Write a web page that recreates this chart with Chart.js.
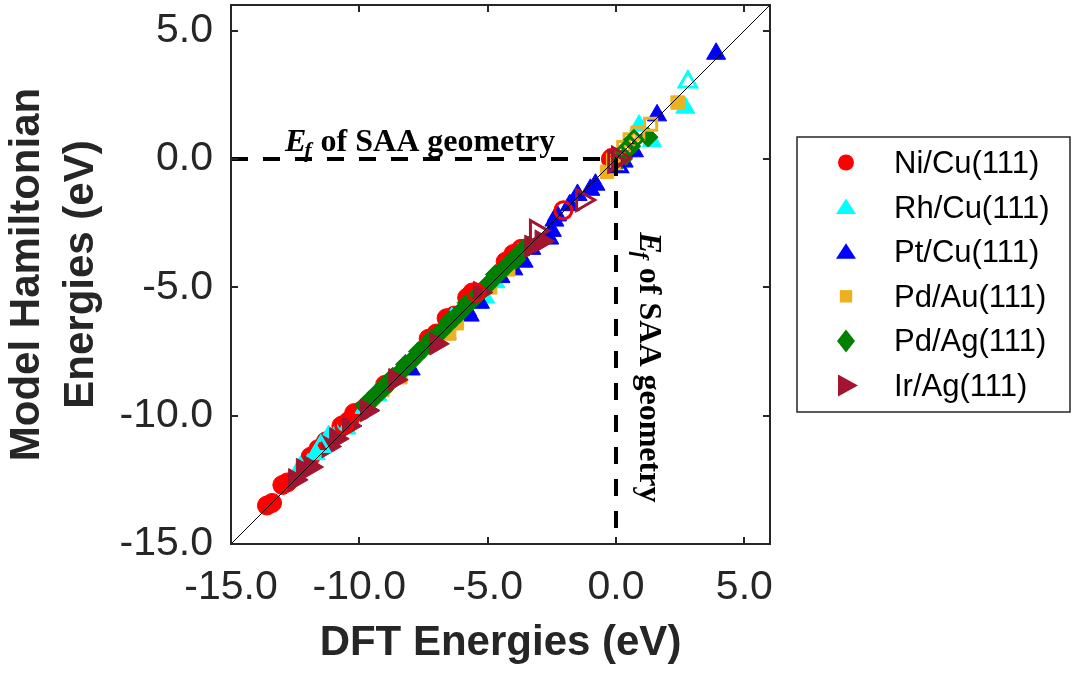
<!DOCTYPE html>
<html>
<head>
<meta charset="utf-8">
<script src="https://cdn.jsdelivr.net/npm/chart.js@4.4.1/dist/chart.umd.min.js"></script>
<style>
  html, body { margin: 0; padding: 0; background: #fff; }
  #wrap { width: 1073px; height: 673px; }
</style>
</head>
<body>
<div id="wrap"><canvas id="chart" width="1073" height="673"></canvas></div>
<script>
// Series labels and colours (legend order)
const seriesLabels = ["Ni/Cu(111)", "Rh/Cu(111)", "Pt/Cu(111)", "Pd/Au(111)", "Pd/Ag(111)", "Ir/Ag(111)"];
const seriesColors = ["#ff0000", "#00ffff", "#0000ff", "#edb120", "#008000", "#a2142f"];

// Axis setup
const axisMin = -15;
const axisMax = 6;
const xTicks = [-15, -10, -5, 0, 5];
const yTicks = [-15, -10, -5, 0, 5];

// [DFT energy, model Hamiltonian energy] in eV
const niCuFilled = [[-13.6, -13.5], [-13.4, -13.4], [-13.0, -12.7], [-12.8, -12.6], [-11.9, -11.6], [-11.6, -11.3],
  [-11.3, -11.0], [-10.7, -10.4], [-10.4, -10.2], [-10.2, -9.9], [-9.9, -9.8], [-9.0, -8.8], [-7.3, -7.0],
  [-7.0, -6.8], [-6.6, -6.2], [-6.3, -6.1], [-5.8, -5.4], [-5.6, -5.2], [-4.3, -4.0], [-4.0, -3.7], [-3.7, -3.5], [-0.2, 0.0]];
const niCuOpen = [[-10.6, -10.35], [-5.45, -5.2], [-2.05, -2.0], [-0.15, 0.05]];

const rhCuFilled = [[-12.3, -12.0], [-12.0, -11.9], [-11.7, -11.5], [-11.2, -10.8], [-10.9, -10.7], [-10.5, -10.5],
  [-9.8, -9.7], [-9.3, -9.2], [-8.2, -8.1], [-6.4, -6.2], [-5.4, -5.6], [-5.1, -5.4], [-4.7, -4.8], [-3.8, -3.7],
  [0.9, 1.3], [1.4, 0.7], [2.7, 2.0]];
const rhCuOpen = [[2.8, 3.0], [-11.5, -11.2]];

const ptCuFilled = [[3.9, 4.1], [1.6, 1.7], [0.7, 0.3], [0.3, -0.1], [-0.8, -1.0], [-1.0, -1.2], [-1.5, -1.4],
  [-1.8, -1.8], [-2.3, -2.2], [-2.4, -2.4], [-2.5, -2.8], [-2.6, -3.1], [-3.3, -3.5], [-3.6, -4.0], [-4.0, -4.3],
  [-4.5, -4.6], [-5.3, -5.6], [-5.8, -5.9], [-5.7, -6.1], [-6.6, -6.8], [-8.0, -8.2]];
const ptCuOpen = [[0.1, -0.3]];

const pdAuFilled = [[2.4, 2.2], [-0.35, -0.5], [0.0, -0.2], [-6.2, -6.4], [-6.5, -6.8], [-4.9, -5.0],
  [-8.4, -8.5], [-9.1, -9.0], [-4.2, -4.3]];
const pdAuOpen = [[1.35, 1.35], [0.85, 1.0], [0.3, 0.45], [-0.1, -0.05], [0.55, 0.75]];

const pdAgFilled = [[-9.8, -9.6], [-9.6, -9.4], [-9.5, -9.4], [-9.3, -9.1], [-9.1, -9.0], [-9.0, -8.8], [-8.8, -8.7],
  [-8.7, -8.5], [-8.5, -8.4], [-8.3, -8.2], [-8.2, -8.0], [-8.0, -7.9], [-7.8, -7.7], [-7.7, -7.5], [-7.5, -7.4],
  [-7.3, -7.2], [-7.2, -7.0], [-7.0, -6.9], [-6.8, -6.7], [-6.6, -6.5], [-6.5, -6.3], [-6.3, -6.2], [-6.1, -6.0],
  [-5.9, -5.8], [-5.8, -5.6], [-5.6, -5.5], [-5.4, -5.3], [-5.2, -5.1], [-5.0, -4.9], [-4.8, -4.7], [-4.7, -4.5],
  [-4.5, -4.4], [-4.3, -4.2], [-4.1, -4.0], [-3.9, -3.9], [-3.8, -3.7], [-3.6, -3.5], [-3.4, -3.4], [1.25, 0.85], [0.25, 0.0]];
const pdAgOpen = [[0.55, 0.5], [0.35, 0.3], [0.7, 0.75]];

const irAgFilled = [[-12.5, -12.5], [-12.2, -12.1], [-11.9, -12.0], [-11.2, -11.2], [-10.9, -10.9], [-10.4, -10.4],
  [-9.7, -9.8], [-8.6, -8.6], [-7.0, -7.2], [-5.3, -5.2], [-3.3, -3.4], [-2.9, -3.2]];
const irAgOpen = [[-1.3, -1.6], [-3.1, -2.8], [0.1, 0.05], [-0.05, -0.1]];

const filledSets = [niCuFilled, rhCuFilled, ptCuFilled, pdAuFilled, pdAgFilled, irAgFilled];
const openSets = [niCuOpen, rhCuOpen, ptCuOpen, pdAuOpen, pdAgOpen, irAgOpen];

// Marker look per series
const markerStyles = ["circle", "triangle", "triangle", "rect", "rectRot", "triangle"];
const markerRotation = [0, 0, 0, 0, 0, 90];
const markerRadius = [9.5, 11, 11, 9.5, 10, 13];

const toPoints = (arr) => arr.map((p) => ({ x: p[0], y: p[1] }));

const datasets = [];

// Reference lines (drawn on top)
datasets.push({
  data: [{ x: axisMin, y: axisMin }, { x: axisMax, y: axisMax }],
  showLine: true, borderColor: "#000", borderWidth: 1, pointRadius: 0, order: 0,
});
datasets.push({
  data: [{ x: axisMin, y: 0 }, { x: 0, y: 0 }],
  showLine: true, borderColor: "#000", borderWidth: 4, borderDash: [17, 15], pointRadius: 0, order: 0,
});
datasets.push({
  data: [{ x: 0, y: 0 }, { x: 0, y: axisMin }],
  showLine: true, borderColor: "#000", borderWidth: 4, borderDash: [17, 15], pointRadius: 0, order: 0,
});

seriesLabels.forEach((label, i) => {
  datasets.push({
    label: label,
    data: toPoints(filledSets[i]),
    pointStyle: markerStyles[i],
    rotation: markerRotation[i],
    pointRadius: markerRadius[i],
    backgroundColor: seriesColors[i],
    borderColor: seriesColors[i],
    borderWidth: 1,
    order: 12 - i,
  });
  datasets.push({
    label: label + " open",
    data: toPoints(openSets[i]),
    pointStyle: markerStyles[i],
    rotation: markerRotation[i],
    pointRadius: markerRadius[i] - 1,
    backgroundColor: "rgba(255,255,255,0)",
    borderColor: seriesColors[i],
    borderWidth: 3,
    order: 6 - i,
  });
});

const sansFont = "'Liberation Sans', Arial, Helvetica, sans-serif";
const serifFont = "'Liberation Serif', 'Times New Roman', serif";

// Legend marker shapes (MATLAB-like sizes)
function drawLegendMarker(ctx, i, cx, cy) {
  ctx.fillStyle = seriesColors[i];
  ctx.beginPath();
  switch (i) {
    case 0:
      ctx.arc(cx, cy, 8, 0, Math.PI * 2);
      break;
    case 1:
    case 2:
      ctx.moveTo(cx, cy - 8.5);
      ctx.lineTo(cx + 10, cy + 7);
      ctx.lineTo(cx - 10, cy + 7);
      break;
    case 3:
      ctx.rect(cx - 6.2, cy - 6.2, 12.4, 12.4);
      break;
    case 4:
      ctx.moveTo(cx, cy - 11.5);
      ctx.lineTo(cx + 9, cy);
      ctx.lineTo(cx, cy + 11.5);
      ctx.lineTo(cx - 9, cy);
      break;
    case 5:
      ctx.moveTo(cx - 8, cy - 11);
      ctx.lineTo(cx + 12, cy);
      ctx.lineTo(cx - 8, cy + 11);
      break;
  }
  ctx.closePath();
  ctx.fill();
}

// E_f of SAA geometry label, drawn at the current origin (alphabetic baseline)
function drawEfLabel(ctx) {
  ctx.fillStyle = "#000";
  ctx.textAlign = "left";
  ctx.textBaseline = "alphabetic";
  ctx.font = "italic bold 32px " + serifFont;
  ctx.fillText("E", 0, 0);
  let w = ctx.measureText("E").width;
  ctx.font = "italic bold 22px " + serifFont;
  ctx.fillText("f", w - 2, 6);
  w += ctx.measureText("f").width - 1;
  ctx.font = "bold 32px " + serifFont;
  ctx.fillText(" of SAA geometry", w, 0);
}

const framePlugin = {
  id: "frame",
  afterDatasetsDraw(chart) {
    const { ctx, chartArea: a, scales } = chart;
    const xs = scales.x;
    const ys = scales.y;
    ctx.save();

    // axes box with inward ticks
    ctx.strokeStyle = "#262626";
    ctx.lineWidth = 2;
    ctx.strokeRect(a.left, a.top, a.right - a.left, a.bottom - a.top);
    ctx.beginPath();
    xTicks.forEach((v) => {
      const px = Math.round(xs.getPixelForValue(v));
      ctx.moveTo(px, a.bottom);
      ctx.lineTo(px, a.bottom - 7);
      ctx.moveTo(px, a.top);
      ctx.lineTo(px, a.top + 7);
    });
    yTicks.forEach((v) => {
      const py = Math.round(ys.getPixelForValue(v));
      ctx.moveTo(a.left, py);
      ctx.lineTo(a.left + 7, py);
      ctx.moveTo(a.right, py);
      ctx.lineTo(a.right - 7, py);
    });
    ctx.stroke();

    // annotations
    ctx.save();
    ctx.translate(xs.getPixelForValue(-12.9), ys.getPixelForValue(0) - 8);
    drawEfLabel(ctx);
    ctx.restore();

    ctx.save();
    ctx.translate(xs.getPixelForValue(0) + 24, ys.getPixelForValue(-2.85));
    ctx.rotate(Math.PI / 2);
    drawEfLabel(ctx);
    ctx.restore();

    // legend
    const lx = a.right + 27;
    const ly = 137;
    ctx.strokeStyle = "#262626";
    ctx.lineWidth = 1.5;
    ctx.strokeRect(lx, ly, 273, 275);
    ctx.font = "31px " + sansFont;
    ctx.textAlign = "left";
    ctx.textBaseline = "middle";
    seriesLabels.forEach((label, i) => {
      const rowY = ly + 27.5 + i * 44.6;
      drawLegendMarker(ctx, i, lx + 49, rowY - 2);
      ctx.fillStyle = "#000";
      ctx.fillText(label, lx + 97, rowY);
    });

    ctx.restore();
  },
};

new Chart(document.getElementById("chart"), {
  type: "scatter",
  data: { datasets: datasets },
  options: {
    responsive: false,
    animation: false,
    events: [],
    layout: { autoPadding: false, padding: { left: 0, right: 303, top: 5, bottom: 0 } },
    plugins: {
      legend: { display: false },
      tooltip: { enabled: false },
    },
    scales: {
      x: {
        type: "linear",
        min: axisMin,
        max: axisMax,
        grid: { display: false, drawTicks: false },
        border: { display: false },
        afterBuildTicks: (s) => { s.ticks = xTicks.map((v) => ({ value: v })); },
        afterFit: (s) => { s.height = 129; s.paddingLeft = 0; s.paddingRight = 0; },
        ticks: {
          padding: 19,
          color: "#262626",
          font: { family: sansFont, size: 41, lineHeight: 1.2 },
          callback: (v) => Number(v).toFixed(1),
        },
        title: {
          display: true,
          text: "DFT Energies (eV)",
          color: "#262626",
          padding: { top: 0, bottom: 2 },
          font: { family: sansFont, size: 42, weight: "bold", lineHeight: 1.3 },
        },
      },
      y: {
        type: "linear",
        min: axisMin,
        max: axisMax,
        grid: { display: false, drawTicks: false },
        border: { display: false },
        afterBuildTicks: (s) => { s.ticks = yTicks.map((v) => ({ value: v })); },
        afterFit: (s) => { s.width = 231; s.paddingTop = 0; s.paddingBottom = 0; },
        ticks: {
          padding: 18,
          color: "#262626",
          font: { family: sansFont, size: 41, lineHeight: 1.2 },
          callback: (v) => Number(v).toFixed(1),
        },
        title: {
          display: true,
          text: ["Model Hamiltonian", "Energies (eV)"],
          color: "#262626",
          padding: { top: 0, bottom: 0 },
          font: { family: sansFont, size: 42, weight: "bold", lineHeight: 1.3 },
        },
      },
    },
  },
  plugins: [framePlugin],
});
</script>
</body>
</html>
